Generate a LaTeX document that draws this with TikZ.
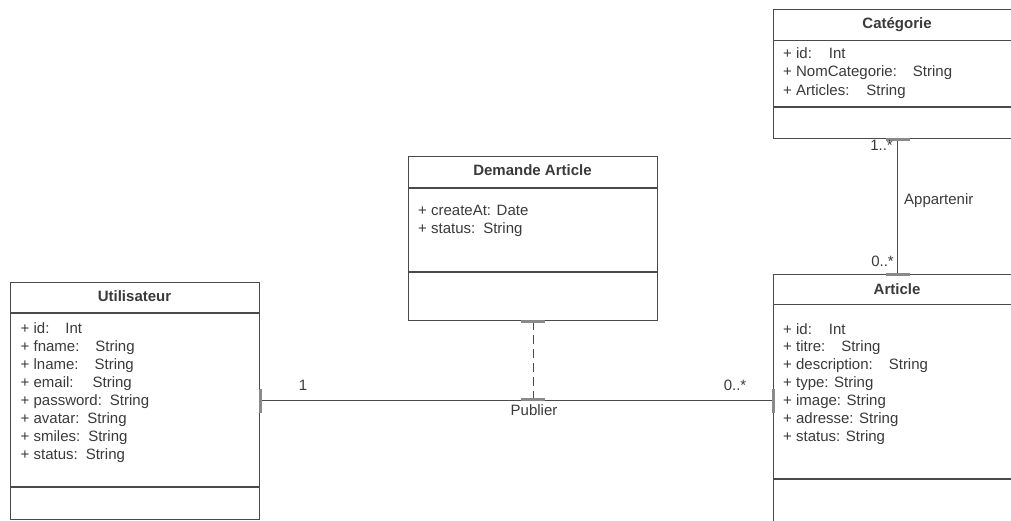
\documentclass[tikz,border=0pt]{standalone}
\usepackage{fontspec}
\setmainfont{Liberation Sans}
\definecolor{linec}{HTML}{4A4A4A}
\definecolor{tickc}{HTML}{8A8A8A}
\definecolor{txt}{HTML}{3A3A3A}
\begin{document}
\begin{tikzpicture}[x=1pt,y=-1pt,
  font=\fontsize{15}{18}\selectfont,
  cls/.style={draw=linec, line width=1.4pt, fill=white, anchor=north west,
              inner sep=0pt, minimum width=#1},
  sepline/.style={draw=linec, line width=1.4pt},
  ttl/.style={font=\fontsize{15}{18}\selectfont\bfseries, text=txt, anchor=base, inner sep=0pt},
  attr/.style={text=txt, anchor=base west, inner sep=0pt},
  lbl/.style={text=txt, inner sep=0pt},
  tick/.style={draw=tickc, line width=3pt},
  assoc/.style={draw=linec, line width=1.1pt}]
\useasboundingbox (0,0) rectangle (1011,521);
\clip (0,0) rectangle (1011,521);

% ---------- Utilisateur ----------
\node[cls=249pt, minimum height=237pt] (ut) at (10,282) {};
\draw[sepline] (ut.west |- 0,313) -- (ut.east |- 0,313);
\draw[sepline] (ut.west |- 0,487) -- (ut.east |- 0,487);
\node[ttl] (ut-t) at (134.5,301) {Utilisateur};
\foreach \t [count=\i] in {%
  {+ id:\hspace{16pt}Int},
  {+ fname:\hspace{16pt}String},
  {+ lname:\hspace{16pt}String},
  {+ email:\hspace{19pt}String},
  {+ password:\hspace{8pt}String},
  {+ avatar:\hspace{8pt}String},
  {+ smiles:\hspace{8pt}String},
  {+ status:\hspace{8pt}String}}
  \node[attr] (ut-a\i) at (20.5,{333+18*(\i-1)}) {\t};

% ---------- Demande Article ----------
\node[cls=249pt, minimum height=164pt] (da) at (408,156) {};
\draw[sepline] (da.west |- 0,188) -- (da.east |- 0,188);
\draw[sepline] (da.west |- 0,272) -- (da.east |- 0,272);
\node[ttl] (da-t) at (532.5,176) {Demande Article};
\node[attr] (da-a1) at (418,216) {+ createAt: Date};
\node[attr] (da-a2) at (418,234) {+ status:\hspace{8pt}String};

% ---------- Catégorie ----------
\node[cls=248pt, minimum height=129pt] (cat) at (773,9) {};
\draw[sepline] (cat.west |- 0,40.5) -- (cat.east |- 0,40.5);
\draw[sepline] (cat.west |- 0,107) -- (cat.east |- 0,107);
\node[ttl] (cat-t) at (897,28.5) {Catégorie};
\node[attr] (cat-a1) at (783,59) {+ id:\hspace{17pt}Int};
\node[attr] (cat-a2) at (783,77) {+ NomCategorie:\hspace{16pt}String};
\node[attr] (cat-a3) at (783,95.5) {+ Articles:\hspace{17pt}String};

% ---------- Article ----------
\node[cls=248pt, minimum height=262pt] (art) at (773,274) {};
\draw[sepline] (art.west |- 0,304.5) -- (art.east |- 0,304.5);
\draw[sepline] (art.west |- 0,479) -- (art.east |- 0,479);
\node[ttl] (art-t) at (897,294.5) {Article};
\foreach \t [count=\i] in {%
  {+ id:\hspace{17pt}Int},
  {+ titre:\hspace{16pt}String},
  {+ description:\hspace{16pt}String},
  {+ type: String},
  {+ image: String},
  {+ adresse: String},
  {+ status: String}}
  \node[attr] (art-a\i) at (783,{334+17.9*(\i-1)}) {\t};

% ---------- Publier (Utilisateur -- Article) ----------
\coordinate (pub) at (da.south |- 0,400.5);
\draw[assoc] (ut.east |- pub) -- (art.west |- pub);
\draw[tick] ([yshift=-12pt]ut.east |- pub) -- ([yshift=12pt]ut.east |- pub);
\draw[tick] ([yshift=-12pt]art.west |- pub) -- ([yshift=12pt]art.west |- pub);
\node[lbl, anchor=base] (pub-l) at (534,415) {Publier};
\node[lbl, anchor=base] (pub-m1) at (303,390) {1};
\node[lbl, anchor=base] (pub-m2) at (735,390) {0..*};

% association class link
\draw[assoc, dash pattern=on 9pt off 5pt] (da.south) -- (pub);
\draw[tick] ([xshift=-12pt]da.south) -- ([xshift=12pt]da.south);
\draw[tick] ([xshift=-12pt,yshift=1.5pt]pub) -- ([xshift=12pt,yshift=1.5pt]pub);

% ---------- Appartenir (Catégorie -- Article) ----------
\draw[assoc] (cat.south) -- (art.north);
\draw[tick] ([xshift=-12pt]cat.south) -- ([xshift=12pt]cat.south);
\draw[tick] ([xshift=-12pt]art.north) -- ([xshift=12pt]art.north);
\node[lbl, anchor=base east] (app-m1) at (893,151) {1..*};
\node[lbl, anchor=base east] (app-m2) at (894,266) {0..*};
\node[lbl, anchor=base west] (app-l) at (904,204.5) {Appartenir};
\end{tikzpicture}
\end{document}
